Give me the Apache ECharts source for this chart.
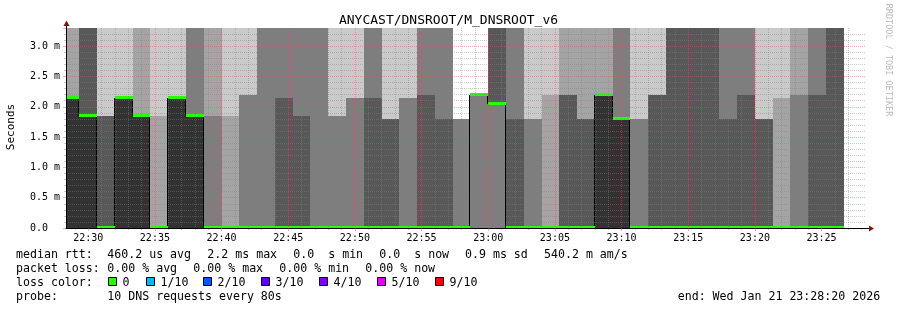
<!DOCTYPE html>
<html><head><meta charset="utf-8">
<script src="https://cdn.jsdelivr.net/npm/echarts@6/dist/echarts.min.js"></script>
<style>html,body{margin:0;padding:0;background:#fff}#c{width:897px;height:310px}</style>
</head><body><div id="c"></div>
<script>
// ---------------- data ----------------
const chartTitle = 'ANYCAST/DNSROOT/M_DNSROOT_v6';
const yAxisName = 'Seconds';
const watermark = 'RRDTOOL / TOBI OETIKER';
const xStart = '22:28:20';
const xEnd = '23:28:20';
const xTickLabels = ['22:30','22:35','22:40','22:45','22:50','22:55','23:00','23:05','23:10','23:15','23:20','23:25'];
const yMax = 3.3;
const yInterval = 0.5;
const stepSeconds = 80;
// end time of each 80 s step
const colEnd = ['22:29:20','22:30:40','22:32:00','22:33:20','22:34:40','22:36:00','22:37:20','22:38:40','22:40:00','22:41:20',
  '22:42:40','22:44:00','22:45:20','22:46:40','22:48:00','22:49:20','22:50:40','22:52:00','22:53:20','22:54:40',
  '22:56:00','22:57:20','22:58:40','23:00:00','23:01:20','23:02:40','23:04:00','23:05:20','23:06:40','23:08:00',
  '23:09:20','23:10:40','23:12:00','23:13:20','23:14:40','23:16:00','23:17:20','23:18:40','23:20:00','23:21:20',
  '23:22:40','23:24:00','23:25:20','23:26:40'];
// smoke: boundary (ms) between lower band and upper band, and the band shades
const smokeSplit = [2.15,1.85,1.85,2.15,1.85,1.85,2.15,1.85,1.85,1.85,
  2.2,null,2.15,1.85,null,1.85,2.15,2.15,1.8,2.15,
  2.2,1.8,1.8,2.2,2.05,1.8,1.8,2.2,2.2,1.8,
  2.2,1.8,1.8,2.2,null,null,null,1.8,2.2,1.8,
  2.15,2.2,2.2,null];
const smokeLow = ['K','K','D','K','K','L','K','K','M','L',
  'M','M','D','D','M','M','M','D','D','M',
  'D','D','M','M','M','D','M','L','D','D',
  'K','K','M','D','D','D','D','D','D','D',
  'L','M','D','D'];
const smokeHigh = ['L','D','P','P','L','P','P','M','L','P',
  'P','M','M','M','M','P','P','M','P','P',
  'M','M','W','W','D','M','P','P','L','L',
  'L','M','P','P','D','D','D','M','M','P',
  'P','L','M','D'];
// median rtt (ms) per step
const median = [2.15,1.85,0,2.15,1.85,0,2.15,1.85,0,0,
  0,0,0,0,0,0,0,0,0,0,
  0,0,0,2.2,2.05,0,0,0,0,0,
  2.2,1.8,0,0,0,0,0,0,0,0,
  0,0,0,0];
// lost pings (of 10) per step
const loss = [0,0,0,0,0,0,0,0,0,0, 0,0,0,0,0,0,0,0,0,0, 0,0,0,0,0,0,0,0,0,0, 0,0,0,0,0,0,0,0,0,0, 0,0,0,0];
const lossLevels = [0,1,2,3,4,5,9];
const lossLabels = ['0','1/10','2/10','3/10','4/10','5/10','9/10'];
const lossColors = ['#26ff00','#00b8ff','#0059ff','#5e00ff','#7e00ff','#dd00ff','#ff0000'];
const statsRow1 = ['median rtt:','460.2 us avg','2.2 ms max','0.0  s min','0.0  s now','0.9 ms sd','540.2 m am/s'];
const statsRow2 = ['packet loss:','0.00 % avg','0.00 % max','0.00 % min','0.00 % now'];
const lossRowLabel = 'loss color:';
const probeLabel = 'probe:';
const probeText = '10 DNS requests every 80s';
const endText = 'end: Wed Jan 21 23:28:20 2026';

// ---------------- helpers / style ----------------
const shadeColor = {K:'#323232', D:'#585858', M:'#7e7e7e', L:'#a4a4a4', P:'#cacaca', W:null};
const MONO = 'DejaVu Sans Mono';
function toMin(s){const p=s.split(':').map(Number);return p[0]*60+p[1]+(p[2]||0)/60;}
function fmtHM(v){const m=Math.round(v);const h=Math.floor(m/60),mm=m%60;return (h<10?'0':'')+h+':'+(mm<10?'0':'')+mm;}
const xMin = toMin(xStart), xMax = toMin(xEnd);
const stepMin = stepSeconds/60;
const majorVals = xTickLabels.map(toMin);
const minorVals = [];
for (let m = Math.ceil(xMin); m <= Math.floor(xMax); m++) { if (m % 5 !== 0) minorVals.push(m); }

const smokeData = colEnd.map((t,i)=>[toMin(t)-stepMin, toMin(t), i]);
const medianData = colEnd.map((t,i)=>[toMin(t)-stepMin, toMin(t), median[i], i]);

const gridMinor = 'rgba(128,128,128,0.42)';
const gridMajor = 'rgba(255,70,70,0.45)';

function renderSmoke(params, api){
  const i = api.value(2);
  const X0 = Math.round(api.coord([api.value(0),0])[0]);
  const X1 = Math.round(api.coord([api.value(1),0])[0]);
  const yb = Math.round(api.coord([api.value(0),0])[1]);
  const yt = Math.round(api.coord([api.value(0),yMax])[1]);
  const sp = smokeSplit[i];
  const ys = sp == null ? yt : Math.round(api.coord([api.value(0),sp])[1]);
  const children = [];
  const lo = shadeColor[smokeLow[i]], hi = shadeColor[smokeHigh[i]];
  if (lo && yb>ys) children.push({type:'rect', shape:{x:X0,y:ys,width:X1-X0,height:yb-ys}, style:{fill:lo}});
  if (hi && ys>yt) children.push({type:'rect', shape:{x:X0,y:yt,width:X1-X0,height:ys-yt}, style:{fill:hi}});
  return {type:'group', children};
}
function renderMedian(params, api){
  const i = api.value(3);
  const X0 = Math.round(api.coord([api.value(0),0])[0]);
  const X1 = Math.round(api.coord([api.value(1),0])[0]);
  const y = api.coord([api.value(0), api.value(2)])[1];
  const children = [];
  if (i < median.length-1) {
    const yn = api.coord([api.value(1), median[i+1]])[1];
    if (Math.abs(yn-y) > 0.5) children.push({type:'line', shape:{x1:X1-0.5,y1:Math.round(y),x2:X1-0.5,y2:Math.round(yn)}, style:{stroke:'#000',lineWidth:1}});
  }
  const c = lossColors[lossLevels.indexOf(loss[i])];
  children.push({type:'rect', shape:{x:X0, y:Math.round(y)-2, width:X1-X0, height:3}, style:{fill:c}});
  return {type:'group', children};
}

const graphics = [];
function txt(x,y,text,opt){graphics.push(Object.assign({type:'text', x, y, style:Object.assign({text, fill:'#000', font:'11.6px "'+MONO+'"', verticalAlign:'middle', align:'left'}, opt||{})}));}
const row1X = [16,107.3,207.3,293.3,379.3,465,544];
statsRow1.forEach((s,k)=>txt(row1X[k],254.5,s));
const row2X = [16,107.3,193.3,279.3,365.3];
statsRow2.forEach((s,k)=>txt(row2X[k],268.5,s));
txt(16,282.5,lossRowLabel);
const boxX = [108,145.7,203.3,261,319,376.7,435];
lossLabels.forEach((s,k)=>{
  const bx = Math.round(boxX[k]);
  graphics.push({type:'rect', shape:{x:bx+0.5,y:277.5,width:8,height:8}, style:{fill:lossColors[k], stroke:'#000', lineWidth:1}});
  txt(bx+14.5,282.5,s);
});
txt(16,296.5,probeLabel);
txt(107.3,296.5,probeText);
txt(677.7,296.5,endText);
// y axis title
graphics.push({type:'text', x:11, y:127, rotation:Math.PI/2, style:{text:yAxisName, fill:'#000', font:'11px "'+MONO+'"', align:'center', verticalAlign:'middle'}});
// watermark
graphics.push({type:'text', x:888, y:60, rotation:-Math.PI/2, style:{text:watermark, fill:'#bdbdbd', font:'8.5px "'+MONO+'"', align:'center', verticalAlign:'middle'}});
// arrows
graphics.push({type:'line', shape:{x1:866,y1:228.5,x2:870,y2:228.5}, style:{stroke:'#000',lineWidth:1}});
graphics.push({type:'polygon', shape:{points:[[869,225.5],[874,228.5],[869,231.5]]}, style:{fill:'#8b1010'}});
graphics.push({type:'line', shape:{x1:66.5,y1:28,x2:66.5,y2:25}, style:{stroke:'#000',lineWidth:1}});
graphics.push({type:'polygon', shape:{points:[[63.5,26],[66.5,20.5],[69.5,26]]}, style:{fill:'#8b1010'}});

const option = {
  animation:false,
  backgroundColor:'#fff',
  title:{text:chartTitle, left:'center', top:9, textStyle:{fontFamily:MONO, fontSize:13, fontWeight:'normal', color:'#000'}},
  grid:{left:66, top:28, width:800, height:200, containLabel:false},
  xAxis:[
    {type:'value', min:xMin, max:xMax, position:'bottom', z:4,
      axisLine:{show:true, onZero:false, lineStyle:{color:'#000', width:1}},
      axisTick:{show:true, customValues:majorVals, length:3, lineStyle:{color:gridMajor}},
      axisLabel:{customValues:majorVals, formatter:fmtHM, fontFamily:MONO, fontSize:10, color:'#000', margin:5},
      splitLine:{show:true, showMinLine:false, showMaxLine:false, lineStyle:{color:gridMajor, type:[1,1], width:1}}},
    {type:'value', min:xMin, max:xMax, position:'bottom', offset:0, z:3,
      axisLine:{show:false},
      axisTick:{show:true, customValues:minorVals, length:2, lineStyle:{color:gridMinor}},
      axisLabel:{show:false},
      splitLine:{show:true, showMinLine:false, showMaxLine:false, lineStyle:{color:gridMinor, type:[1,1], width:1}}}
  ],
  yAxis:{type:'value', min:0, max:yMax, interval:yInterval, z:4,
    axisLine:{show:true, lineStyle:{color:'#000', width:1}},
    axisTick:{show:true, length:3, lineStyle:{color:gridMajor}},
    minorTick:{show:true, splitNumber:5, length:2, lineStyle:{color:gridMinor}},
    axisLabel:{formatter:v=> v===0 ? '0.0  ' : v.toFixed(1)+' m', fontFamily:MONO, fontSize:10, color:'#000', margin:6, showMaxLabel:false},
    splitLine:{show:true, showMinLine:false, showMaxLine:false, lineStyle:{color:gridMajor, type:[1,1], width:1}},
    minorSplitLine:{show:true, lineStyle:{color:gridMinor, type:[1,1], width:1}}},
  series:[
    {type:'custom', name:'smoke', xAxisIndex:0, renderItem:renderSmoke, data:smokeData, encode:{x:[0,1]}, clip:true, z:1, silent:true},
    {type:'custom', name:'median', xAxisIndex:0, renderItem:renderMedian, data:medianData, encode:{x:[0,1], y:2}, clip:true, z:2, silent:true}
  ],
  graphic:graphics
};
const chart = echarts.init(document.getElementById('c'), null, {renderer:'canvas'});
chart.setOption(option);
</script></body></html>
